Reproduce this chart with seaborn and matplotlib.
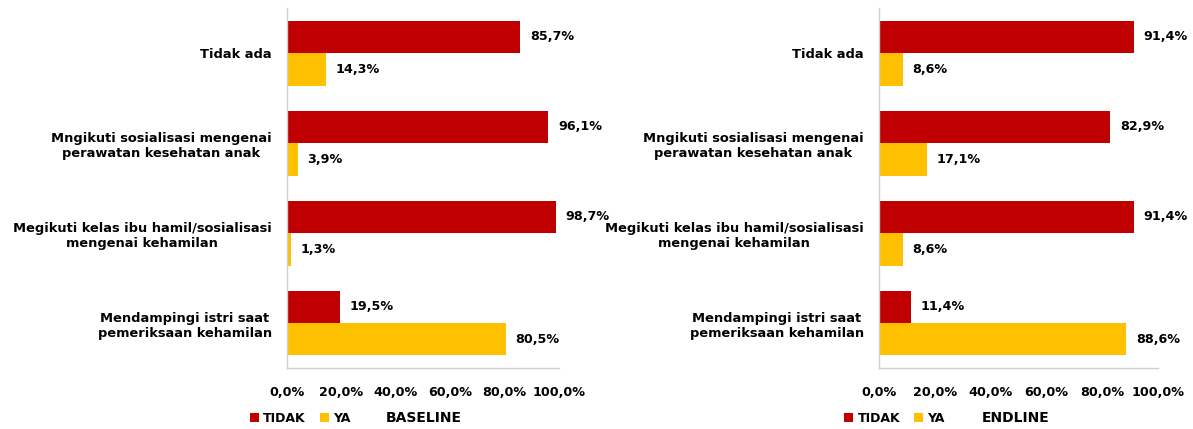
import matplotlib
matplotlib.use("Agg")
import matplotlib.pyplot as plt
import seaborn as sns
import pandas as pd
from matplotlib.patches import Patch

categories = [
    "Tidak ada",
    "Mngikuti sosialisasi mengenai\nperawatan kesehatan anak",
    "Megikuti kelas ibu hamil/sosialisasi\nmengenai kehamilan",
    "Mendampingi istri saat\npemeriksaan kehamilan",
]
baseline_tidak = [85.7, 96.1, 98.7, 19.5]
baseline_ya = [14.3, 3.9, 1.3, 80.5]
endline_tidak = [91.4, 82.9, 91.4, 11.4]
endline_ya = [8.6, 17.1, 8.6, 88.6]
series_names = ["TIDAK", "YA"]
panel_titles = ["BASELINE", "ENDLINE"]
xticks = [0, 20, 40, 60, 80, 100]
colors = {"TIDAK": "#C00000", "YA": "#FFC000"}

sns.set_style("white")
plt.rcParams["font.family"] = ["DejaVu Sans"]
plt.rcParams["text.color"] = "black"
plt.rcParams["xtick.color"] = "black"
plt.rcParams["ytick.color"] = "black"

fig = plt.figure(figsize=(11.93, 4.29), dpi=100)
axes = [fig.add_axes([0.2406, 0.142, 0.228, 0.839]),
        fig.add_axes([0.7368, 0.142, 0.2339, 0.839])]

panels = [(baseline_tidak, baseline_ya), (endline_tidak, endline_ya)]
legend_x = [0.205, 0.703]
title_x = [0.323, 0.823]

for ax, (tid, ya), title, lx, tx in zip(axes, panels, panel_titles, legend_x, title_x):
    df = pd.DataFrame({
        "cat": categories * 2,
        "val": tid + ya,
        "series": [series_names[0]] * 4 + [series_names[1]] * 4,
    })
    sns.barplot(data=df, y="cat", x="val", hue="series", palette=colors,
                orient="h", width=0.72, ax=ax, legend=False, saturation=1,
                edgecolor="none", linewidth=0)
    for cont in ax.containers:
        labels = [f"{v:.1f}%".replace(".", ",") for v in cont.datavalues]
        ax.bar_label(cont, labels=labels, padding=7, fontsize=9.2,
                     fontweight="bold", color="black")
    ax.set_xlim(0, 100)
    ax.set_ylim(3.5, -0.5)
    ax.set_xticks(xticks)
    ax.set_xticklabels([f"{t:.1f}%".replace(".", ",") for t in xticks],
                       fontsize=9.2, fontweight="bold")
    ax.set_xlabel("")
    ax.set_ylabel("")
    ax.tick_params(axis="x", length=0, pad=13)
    ax.tick_params(axis="y", length=0, pad=11)
    for lab in ax.get_yticklabels():
        lab.set_fontweight("bold")
        lab.set_fontsize(9.4)
        lab.set_horizontalalignment("right")
        lab.set_multialignment("center")
    for s in ["top", "right"]:
        ax.spines[s].set_visible(False)
    for s in ["left", "bottom"]:
        ax.spines[s].set_color("#D0D0D0")
        ax.spines[s].set_linewidth(1.0)
    handles = [Patch(facecolor=colors[n], edgecolor="none") for n in series_names]
    fig.legend(handles, series_names, loc="center left",
               bbox_to_anchor=(lx, 0.025), ncol=2, frameon=False,
               prop={"weight": "bold", "size": 9},
               handlelength=0.75, handleheight=0.75, handletextpad=0.35,
               columnspacing=1.1, borderaxespad=0)
    fig.text(tx, 0.025, title, fontsize=10, fontweight="bold",
             va="center", ha="left")

fig.savefig("out.png", dpi=100)
